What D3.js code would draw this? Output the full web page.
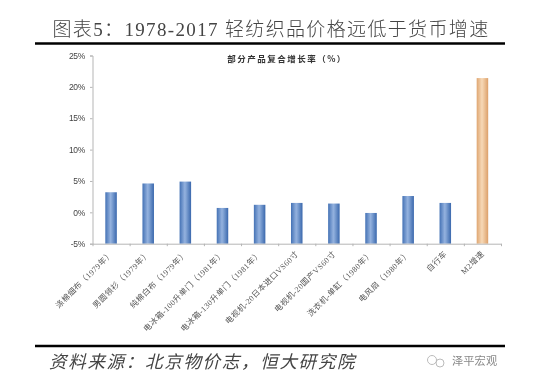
<!DOCTYPE html>
<html><head><meta charset="utf-8">
<script src="https://cdnjs.cloudflare.com/ajax/libs/d3/7.8.5/d3.min.js"></script>
<style>html,body{margin:0;padding:0;background:#fff}svg{display:block;filter:blur(.35px)}</style></head>
<body><svg id="c" width="550" height="383"></svg>
<script>
const categories=["涤棉细布（1979年）","男圆领衫（1979年）","纯棉白布（1979年）","电冰箱-100升单门（1981年）","电冰箱-130升单门（1981年）","电视机-20日本进口VS60寸","电视机-20国产VS60寸","洗衣机-单缸（1980年）","电风扇（1980年）","自行车","M2增速"];
const values=[3.2,4.6,4.9,0.7,1.2,1.5,1.4,-0.1,2.6,1.5,21.4];
const yTicks=[-5,0,5,10,15,20,25];
const titleText="图表5：1978-2017 轻纺织品价格远低于货币增速";
const subtitleText="部分产品复合增长率（%）";
const sourceText="资料来源：北京物价志，恒大研究院";
const watermarkText="泽平宏观";

const cjk="'Noto Sans CJK SC'";
const svg=d3.select("#c");
const defs=svg.append("defs");
function grad(id,stops){const g=defs.append("linearGradient").attr("id",id).attr("x1",0).attr("x2",1).attr("y1",0).attr("y2",0);
  stops.forEach(([o,c])=>g.append("stop").attr("offset",o).attr("stop-color",c));}
grad("blue",[[0,"#4472b5"],[.45,"#93b1de"],[.55,"#86a7d7"],[1,"#3a68ad"]]);
grad("orange",[[0,"#dfa671"],[.45,"#f6d8b6"],[.55,"#f3d0aa"],[1,"#dca06a"]]);

const x=d3.scaleBand().domain(categories).range([92.5,501]).paddingInner(0.69).paddingOuter(0.345);
const y=d3.scaleLinear().domain([-5,25]).range([243.7,55.5]);

svg.append("text").attr("x",271).attr("y",36).attr("text-anchor","middle")
  .attr("font-family","'Liberation Serif',"+cjk).attr("font-size",19).attr("font-weight",300).attr("letter-spacing",1.35).attr("fill","#444").text(titleText);
svg.append("line").attr("x1",35).attr("x2",505).attr("y1",43.5).attr("y2",43.5).attr("stroke","#000").attr("stroke-width",2.5);
svg.append("line").attr("x1",35).attr("x2",505).attr("y1",346).attr("y2",346).attr("stroke","#000").attr("stroke-width",2.5);

svg.append("text").attr("x",287).attr("y",62).attr("text-anchor","middle")
  .attr("font-family",cjk).attr("font-weight",700).attr("font-size",8.5).attr("letter-spacing",1.5).attr("fill","#333").text(subtitleText);

svg.selectAll("rect.bar").data(categories).enter().append("rect").attr("class","bar")
  .attr("x",d=>x(d)).attr("width",x.bandwidth())
  .attr("y",(d,i)=>y(Math.max(values[i],-5)))
  .attr("height",(d,i)=>y(-5)-y(values[i]))
  .attr("fill",(d,i)=>i===categories.length-1?"url(#orange)":"url(#blue)");

const yAxis=d3.axisLeft(y).tickValues(yTicks).tickFormat(d=>d+"%").tickSize(2.5).tickPadding(5);
const gy=svg.append("g").attr("transform","translate(92.5,0)").call(yAxis);
gy.selectAll("path,line").attr("stroke","#b5b5b5");
gy.selectAll("text").attr("font-family","'Liberation Sans',sans-serif").attr("font-size",8.5).attr("letter-spacing",-.3).attr("fill","#444");

const xEdge=d3.scaleLinear().domain([0,categories.length]).range([92.5,501]);
const gx=svg.append("g").attr("transform","translate(0,243.7)").call(
  d3.axisBottom(xEdge).tickValues(d3.range(categories.length+1)).tickFormat("").tickSize(2.5).tickSizeOuter(0));
gx.selectAll("path,line").attr("stroke","#b5b5b5");

svg.selectAll("text.cat").data(categories).enter().append("text").attr("class","cat")
  .attr("transform",d=>`translate(${x(d)+x.bandwidth()/2+1},253) rotate(-45)`)
  .attr("text-anchor","end").attr("dominant-baseline","middle")
  .attr("font-family","'Liberation Serif',"+cjk).attr("font-size",8).attr("letter-spacing",.45).attr("fill","#555").text(d=>d);

svg.append("text").attr("x",49).attr("y",368)
  .attr("font-family",cjk).attr("font-size",17.5).attr("font-style","italic").attr("letter-spacing",1.7).attr("fill","#444").text(sourceText);
svg.append("text").attr("x",452).attr("y",365)
  .attr("font-family",cjk).attr("font-size",11.3).attr("fill","#888").text(watermarkText);
const wm=svg.append("g").attr("fill","none").attr("stroke","#bbb").attr("stroke-width",1);
wm.append("circle").attr("cx",432).attr("cy",360).attr("r",4.5);
wm.append("circle").attr("cx",440).attr("cy",363).attr("r",4);
</script></body></html>
